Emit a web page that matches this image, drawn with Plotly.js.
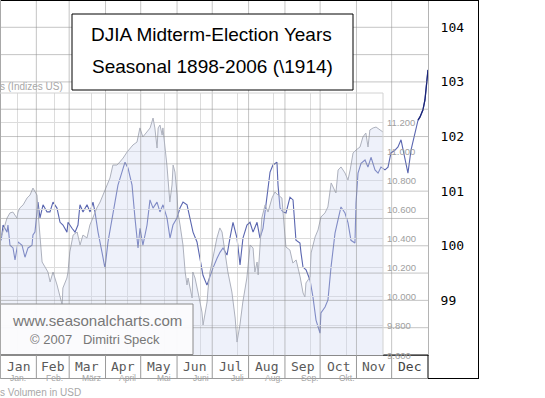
<!DOCTYPE html>
<html><head><meta charset="utf-8">
<script src="https://cdn.plot.ly/plotly-3.0.1.min.js"></script>
<style>html,body{margin:0;padding:0;background:#fff}#chart{width:545px;height:398px}</style>
</head><body><div id="chart"></div>
<script>
// ---- data ----
const monthLabels = ['Jan','Feb','Mar','Apr','May','Jun','Jul','Aug','Sep','Oct','Nov','Dec'];
const monthLabelsDe = ['Jan.','Feb.','März','April','Mai','Juni','Juli','Aug.','Sep.','Okt.'];
const monthStartDays = [0,31,59,90,120,151,181,212,243,273,304,334,365];

// seasonal pattern (blue), day of year vs index level
const seasonalDay = [1,2.6,6.0,6.8,8.5,11.1,12.8,15.4,18.8,21.3,
 23.9,27.3,28.1,29.8,31.6,32.4,34.1,36.7,40.1,42.6,
 45.2,48.6,51.2,53.7,57.1,58.0,61.4,64.0,66.5,68.2,
 70.8,74.2,76.8,79.3,81.0,83.6,87.0,89.5,92.1,95.5,
 98.1,100.6,104.0,106.6,109.2,112.6,115.1,117.7,119.4,121.9,
 125.4,127.9,130.5,133.9,136.4,139.0,142.4,145.0,147.5,150.9,
 153.5,156.1,159.5,162.0,164.6,168.0,170.6,173.1,176.5,179.1,
 181.6,185.1,187.6,190.2,193.6,196.1,198.7,202.1,204.7,207.2,
 210.6,213.2,215.8,219.2,221.7,224.3,227.7,230.3,232.8,236.2,
 237.1,238.8,241.3,243.9,247.3,249.9,252.4,255.8,256.7,258.4,
 261.0,264.4,266.9,269.5,272.9,273.7,277.2,279.7,282.3,285.7,
 288.2,290.8,294.2,296.8,299.3,302.7,303.6,305.3,307.9,311.3,
 313.8,316.4,319.8,322.4,324.9,328.3,330.9,333.4,336.9,339.4,
 342.0,345.4,347.9,350.5,353.9,356.5,358.2,360.7,362.4,364.1,
 365];
const seasonalValue = [100.10,100.38,100.25,100.38,100.01,99.96,99.74,100.07,100.01,99.79,
 99.96,100.01,100.20,100.25,100.62,100.80,100.51,100.75,100.62,100.62,
 100.80,100.69,100.43,100.38,100.25,100.43,100.32,100.25,100.38,100.75,
 100.62,100.75,100.62,100.80,100.62,100.25,99.88,99.59,100.07,100.51,
 100.80,101.11,101.35,101.53,101.42,101.11,100.51,99.96,100.32,100.01,
 100.38,100.84,100.69,100.80,100.62,100.75,100.51,100.14,100.38,100.51,
 100.69,100.80,100.75,100.51,100.25,100.07,99.77,99.46,99.28,99.46,
 99.59,99.77,99.88,99.96,99.83,100.14,100.43,100.14,99.65,100.14,
 100.38,100.43,100.25,100.43,100.14,100.32,100.87,101.35,101.48,101.53,
 101.11,100.69,100.62,100.60,100.89,100.84,100.10,100.05,99.87,99.61,
 99.56,99.37,99.06,98.64,98.40,98.77,98.88,99.01,99.61,100.23,
 100.47,100.71,100.60,100.42,100.10,100.05,100.78,101.33,101.51,101.57,
 101.44,101.62,101.39,101.33,101.44,101.39,101.44,101.70,101.75,101.81,
 101.94,101.57,101.33,101.75,102.06,102.30,102.36,102.49,102.67,103.03,
 103.22];

// background index chart (grey), month position vs index points
const bgIndexX = [-0.49,-0.44,-0.30,-0.22,-0.14,-0.03,0.00,0.05,0.14,0.25,0.33,0.41,0.47,0.52,0.55,0.60,0.66,0.74,0.82,0.88,0.96,
 1.07,1.15,1.21,1.23,1.34,1.37,1.42,1.51,1.62,1.70,1.78,1.89,1.97,2.05,2.16,2.25,2.33,2.44,2.52,2.60,2.71,2.79,2.88,2.99,
 3.07,3.15,3.26,3.34,3.42,3.53,3.62,3.70,3.75,3.81,3.84,3.89,3.95,3.97,4.03,4.08,4.16,4.22,4.25,4.30,4.36,4.38,4.44,4.52,4.58,4.63,4.66,4.77,4.79,4.85,4.93,
 5.04,5.07,5.18,5.21,5.26,5.34,5.45,5.53,5.59,5.67,5.75,5.86,5.95,6.00,6.08,6.16,6.27,6.36,6.44,6.49,6.55,6.58,6.68,6.77,6.85,6.96,
 7.04,7.12,7.23,7.29,7.34,7.45,7.53,7.62,7.73,7.81,7.86,7.89,8.00,8.03,8.14,8.22,8.30,8.41,8.49,8.58,8.68,8.71,8.77,8.85,8.96,
 9.04,9.10,9.18,9.26,9.37,9.45,9.53,9.59,9.64,9.73,9.81,9.92,10.00];
const bgIndexValue = [10404,10424,10541,10576,10582,10541,10582,10610,10631,10679,10699,10747,10720,10699,10582,10424,10239,10205,10170,10102,10170,
 10081,9992,9944,10060,10129,10170,10308,10424,10445,10356,10424,10404,10493,10541,10610,10651,10699,10768,10816,10905,10905,10926,10953,10995,
 11022,11043,11063,11160,11098,11132,11160,11228,11160,11022,11160,11180,11111,11160,11022,10905,10651,10768,10905,10857,10699,10582,10493,10356,10170,10081,10129,9992,10170,10129,10033,
 9895,9806,9964,10060,10170,10266,10404,10473,10445,10308,10170,10033,9854,9689,9806,9964,10129,10356,10335,10170,10239,10150,10541,10631,10582,10679,
 10720,10699,10679,10493,10342,10321,10232,10253,10136,10026,9999,10095,10136,10301,10411,10459,10548,10576,10617,10782,10734,10713,10871,10892,10850,
 10802,10871,10988,11008,11029,11098,11125,11029,11146,11160,11166,11146,11132];

const rightTicks = [98,98.5,99,99.5,100,100.5,101,101.5,102,102.5,103,103.5,104,104.5];
const bgTicks = [9600,9800,10000,10200,10400,10600,10800,11000,11200,11400];
const bgLabelTicks = [9600,9800,10000,10200,10400,10600,10800,11000,11200];
const bgMonthTicks = [0,1,2,3,4,5,6,7,8,9,10];

// ---- derived ----
const monthCenters = monthLabels.map((m,i)=>(monthStartDays[i]+monthStartDays[i+1])/2);
const rightText = rightTicks.map(v => (Number.isInteger(v) && v >= 99) ? String(v) : '');
const lateDay = [], lateValue = [];
seasonalDay.forEach((d,i)=>{ if (d >= 356) { lateDay.push(d); lateValue.push(seasonalValue[i]); }});

// ---- geometry helpers (layout decorations) ----
const W = 545, H = 398, ML = 0, MR = 117, MT = 0, MB = 43;
const PW = W - ML - MR, PH = H - MT - MB;
const px = x => x / PW;
const py = y => (PH - y) / PH;

// main chart on x/y, background index chart on x2/y2
const traces = [
  { x: seasonalDay, y: seasonalValue, xaxis: 'x', yaxis: 'y', type: 'scatter', mode: 'lines',
    line: { color: '#5a66b0', width: 1.1 }, hoverinfo: 'skip' },
  { x: lateDay, y: lateValue, xaxis: 'x', yaxis: 'y', type: 'scatter', mode: 'lines',
    line: { color: '#1b2578', width: 1.3 }, hoverinfo: 'skip' },
  { x: bgIndexX, y: bgIndexValue, xaxis: 'x2', yaxis: 'y2', type: 'scatter', mode: 'lines',
    line: { color: '#adb1bd', width: 1 }, fill: 'tozeroy', fillcolor: 'rgba(205,214,240,0.34)', hoverinfo: 'skip' }
];

const frame = (x0,y0,x1,y1,color) => ({ type:'line', xref:'paper', yref:'paper', layer:'above',
  x0: px(x0), y0: py(y0), x1: px(x1), y1: py(y1), line: { color: color, width: 1 } });

// main grid and month-strip separators, placed through the main axes
const gridColor = 'rgba(140,140,140,0.5)';
const vGrid = monthStartDays.slice(1, -1).map(d => ({ type: 'line', xref: 'x', yref: 'paper', layer: 'above',
  x0: d, x1: d, y0: 0, y1: 1, line: { color: gridColor, width: 1 } }));
const hGrid = rightTicks.filter(v => v > 98 && v < 104.5).map(v => ({ type: 'line', xref: 'paper', yref: 'y', layer: 'above',
  x0: 0, x1: 1, y0: v, y1: v, line: { color: gridColor, width: 1 } }));
const stripSep = monthStartDays.slice(1, -1).map(d => ({ type: 'line', xref: 'x', yref: 'paper', layer: 'above',
  x0: d, x1: d, y0: py(378.5), y1: py(355), line: { color: '#9a9a9a', width: 1 } }));

const monthAnnotations = monthLabels.map((m,i) => ({
  text: m, xref: 'x', yref: 'paper', x: monthCenters[i], y: py(366.5),
  xanchor: 'center', yanchor: 'middle', showarrow: false,
  font: { family: 'DejaVu Sans Mono, monospace', size: 13, color: i === 11 ? '#444444' : '#5a5a5a' } }));
const monthDeAnnotations = monthLabelsDe.map((m,i) => ({
  text: m, xref: 'x2', yref: 'paper', x: bgMonthTicks[i], y: py(378.5),
  xanchor: 'center', yanchor: 'middle', showarrow: false,
  font: { family: 'Liberation Sans, Arial', size: 8.5, color: '#a4a4a4' } }));
const bgValueAnnotations = bgLabelTicks.map(v => ({
  text: (v/1000).toFixed(3), xref: 'paper', yref: 'y2', x: px(385), y: v,
  xanchor: 'left', yanchor: 'middle', showarrow: false,
  font: { family: 'Liberation Sans, Arial', size: 9.5, color: '#a0a0a0' } }));

const layout = {
  width: W, height: H, margin: { l: ML, r: MR, t: MT, b: MB, pad: 0 },
  paper_bgcolor: '#ffffff', plot_bgcolor: 'rgba(0,0,0,0)', showlegend: false,
  xaxis: { domain: [0, 1], range: [0, 365], anchor: 'y',
    tickvals: monthStartDays, showticklabels: false, ticks: '',
    showgrid: false, zeroline: false,
    showline: true, linecolor: '#8a8a8a' },
  yaxis: { domain: [0, 1], range: [98, 104.5], anchor: 'x', side: 'right',
    tickvals: rightTicks, ticktext: rightText,
    ticks: 'outside', ticklen: 9, tickcolor: 'rgba(0,0,0,0)',
    tickfont: { family: 'DejaVu Sans Mono, monospace', size: 13, color: '#000000' },
    showgrid: false, zeroline: false,
    showline: true, linecolor: '#b4b4b4' },
  xaxis2: { domain: [0, 383/428], range: [-0.493, 10], anchor: 'y2',
    tickvals: bgMonthTicks, showticklabels: false,
    showgrid: true, gridcolor: '#dcdcdc', zerolinecolor: '#dcdcdc', zerolinewidth: 1 },
  yaxis2: { domain: [0, 262/355], range: [9600, 11400], anchor: 'x2', side: 'right',
    tickvals: bgTicks, showticklabels: false,
    showgrid: true, gridcolor: '#dcdcdc' },
  shapes: vGrid.concat(hGrid, stripSep, [
    { type: 'rect', xref: 'paper', yref: 'paper', layer: 'above',
      x0: px(72), x1: px(353), y0: py(90), y1: py(14), fillcolor: '#ffffff', line: { color: '#000000', width: 1 } },
    { type: 'rect', xref: 'paper', yref: 'paper', layer: 'above',
      x0: px(0.5), x1: px(193), y0: py(354.5), y1: py(304), fillcolor: 'rgba(251,251,253,0.96)', line: { color: '#8a8a8a', width: 1 } },
    frame(0, 0.5, 479, 0.5, '#000000'),
    frame(478.5, 0, 478.5, 379, '#000000'),
    frame(428, 378.5, 479, 378.5, '#000000'),
    frame(428, 355, 428, 379, '#000000'),
    frame(383, 355, 428, 355, '#000000'),
    frame(0, 378.5, 428, 378.5, '#9a9a9a'),
    frame(0.5, 0, 0.5, 379, '#a8a8a8'),
    frame(0, 93, 383, 93, '#d2d2d2'),
    frame(383, 93, 383, 355, '#d2d2d2')
  ]),
  annotations: monthAnnotations.concat(monthDeAnnotations, bgValueAnnotations, [
    { text: 'DJIA Midterm-Election Years', xref: 'paper', yref: 'paper', x: px(211.5), y: py(35),
      xanchor: 'center', yanchor: 'middle', showarrow: false, font: { family: 'Liberation Sans, Arial', size: 19, color: '#000' } },
    { text: 'Seasonal 1898-2006 (\\1914)', xref: 'paper', yref: 'paper', x: px(212.5), y: py(67),
      xanchor: 'center', yanchor: 'middle', showarrow: false, font: { family: 'Liberation Sans, Arial', size: 19, color: '#000' } },
    { text: 'www.seasonalcharts.com', xref: 'paper', yref: 'paper', x: px(97), y: py(320),
      xanchor: 'center', yanchor: 'middle', showarrow: false, font: { family: 'Liberation Sans, Arial', size: 15, color: '#777' } },
    { text: '\u00a9 2007\u00a0\u00a0\u00a0Dimitri Speck', xref: 'paper', yref: 'paper', x: px(95), y: py(339),
      xanchor: 'center', yanchor: 'middle', showarrow: false, font: { family: 'Liberation Sans, Arial', size: 13, color: '#777' } },
    { text: 's (Indizes US)', xref: 'paper', yref: 'paper', x: px(-2), y: py(86),
      xanchor: 'left', yanchor: 'middle', showarrow: false, font: { family: 'Liberation Sans, Arial', size: 10, color: '#a8a8a8' } },
    { text: 's Volumen in USD', xref: 'paper', yref: 'paper', x: px(-2), y: py(392),
      xanchor: 'left', yanchor: 'middle', showarrow: false, font: { family: 'Liberation Sans, Arial', size: 10, color: '#a8a8a8' } }
  ])
};

Plotly.newPlot('chart', traces, layout, { staticPlot: true, displayModeBar: false });
</script>
</body></html>
